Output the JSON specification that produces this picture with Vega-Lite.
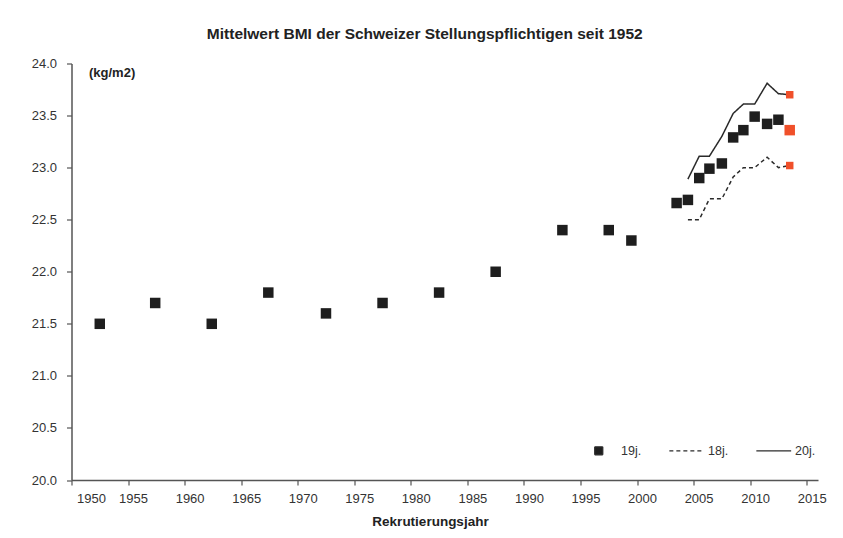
{
  "$schema": "https://vega.github.io/schema/vega-lite/v6.json",
  "width": 746.5,
  "height": 416.5,
  "autosize": {"type": "none"},
  "padding": {"left": 71.5, "top": 63.5, "right": 25, "bottom": 58},
  "background": "white",
  "title": {
    "text": "Mittelwert BMI der Schweizer Stellungspflichtigen seit 1952",
    "font": "Liberation Sans",
    "fontSize": 15.5,
    "fontWeight": "bold",
    "color": "#222222",
    "anchor": "middle",
    "dx": -20,
    "offset": 15
  },
  "config": {
    "view": {"stroke": null},
    "axis": {
      "labelFont": "Liberation Sans",
      "labelFontSize": 13,
      "labelColor": "#333333",
      "titleFont": "Liberation Sans",
      "titleFontSize": 13.5,
      "titleFontWeight": "bold",
      "titleColor": "#222222",
      "domainColor": "#555555",
      "domainWidth": 1.5,
      "tickColor": "#555555",
      "tickWidth": 1.2,
      "tickSize": 5,
      "grid": false
    }
  },
  "data": {
    "values": [
      {"series": "19j.", "year": 1952.5, "bmi": 21.5},
      {"series": "19j.", "year": 1957.4, "bmi": 21.7},
      {"series": "19j.", "year": 1962.4, "bmi": 21.5},
      {"series": "19j.", "year": 1967.4, "bmi": 21.8},
      {"series": "19j.", "year": 1972.5, "bmi": 21.6},
      {"series": "19j.", "year": 1977.5, "bmi": 21.7},
      {"series": "19j.", "year": 1982.5, "bmi": 21.8},
      {"series": "19j.", "year": 1987.5, "bmi": 22.0},
      {"series": "19j.", "year": 1993.4, "bmi": 22.4},
      {"series": "19j.", "year": 1997.5, "bmi": 22.4},
      {"series": "19j.", "year": 1999.5, "bmi": 22.3},
      {"series": "19j.", "year": 2003.5, "bmi": 22.66},
      {"series": "19j.", "year": 2004.5, "bmi": 22.69},
      {"series": "19j.", "year": 2005.5, "bmi": 22.9},
      {"series": "19j.", "year": 2006.4, "bmi": 22.99},
      {"series": "19j.", "year": 2007.5, "bmi": 23.04},
      {"series": "19j.", "year": 2008.5, "bmi": 23.29},
      {"series": "19j.", "year": 2009.4, "bmi": 23.36},
      {"series": "19j.", "year": 2010.4, "bmi": 23.49},
      {"series": "19j.", "year": 2011.5, "bmi": 23.42},
      {"series": "19j.", "year": 2012.5, "bmi": 23.46},
      {"series": "19j.", "year": 2013.5, "bmi": 23.36},
      {"series": "20j.", "year": 2004.5, "bmi": 22.89},
      {"series": "20j.", "year": 2005.5, "bmi": 23.11},
      {"series": "20j.", "year": 2006.4, "bmi": 23.11},
      {"series": "20j.", "year": 2007.5, "bmi": 23.3},
      {"series": "20j.", "year": 2008.5, "bmi": 23.52},
      {"series": "20j.", "year": 2009.4, "bmi": 23.61},
      {"series": "20j.", "year": 2010.4, "bmi": 23.61},
      {"series": "20j.", "year": 2011.5, "bmi": 23.81},
      {"series": "20j.", "year": 2012.5, "bmi": 23.71},
      {"series": "20j.", "year": 2013.5, "bmi": 23.7},
      {"series": "18j.", "year": 2004.5, "bmi": 22.5},
      {"series": "18j.", "year": 2005.5, "bmi": 22.5},
      {"series": "18j.", "year": 2006.4, "bmi": 22.7},
      {"series": "18j.", "year": 2007.5, "bmi": 22.7},
      {"series": "18j.", "year": 2008.5, "bmi": 22.91},
      {"series": "18j.", "year": 2009.4, "bmi": 23.0},
      {"series": "18j.", "year": 2010.4, "bmi": 23.0},
      {"series": "18j.", "year": 2011.5, "bmi": 23.1},
      {"series": "18j.", "year": 2012.5, "bmi": 23.0},
      {"series": "18j.", "year": 2013.5, "bmi": 23.02}
    ]
  },
  "encoding": {
    "x": {
      "field": "year",
      "type": "quantitative",
      "scale": {"domain": [1950, 2016], "nice": false, "zero": false},
      "axis": {
        "values": [1950, 1955, 1960, 1965, 1970, 1975, 1980, 1985, 1990, 1995, 2000, 2005, 2010, 2015],
        "format": "d",
        "title": "Rekrutierungsjahr",
        "labelPadding": 7,
        "labelOffset": 5,
        "titlePadding": 9,
        "titleX": 358.5
      }
    },
    "y": {
      "field": "bmi",
      "type": "quantitative",
      "scale": {"domain": [20, 24], "nice": false, "zero": false},
      "axis": {
        "values": [20, 20.5, 21, 21.5, 22, 22.5, 23, 23.5, 24],
        "format": ".1f",
        "title": "(kg/m2)",
        "titleAngle": 0,
        "titleX": 17,
        "titleY": 9,
        "titleAlign": "left",
        "titleBaseline": "middle",
        "titleFontSize": 13,
        "labelPadding": 10
      }
    }
  },
  "layer": [
    {
      "transform": [{"filter": "datum.series !== '19j.'"}],
      "mark": {"type": "line", "color": "#2a2a2a", "strokeWidth": 1.5},
      "encoding": {
        "detail": {"field": "series"},
        "strokeDash": {
          "field": "series",
          "type": "nominal",
          "scale": {"domain": ["19j.", "18j.", "20j."], "range": [[1, 0], [4, 3], [1, 0]]},
          "legend": {
            "title": null,
            "orient": "none",
            "direction": "horizontal",
            "legendX": 521,
            "legendY": 381,
            "symbolSize": 64,
            "symbolStrokeWidth": 1.3,
            "symbolStrokeColor": "#2a2a2a",
            "labelFont": "Liberation Sans",
            "labelFontSize": 12.5,
            "labelColor": "#333333",
            "labelOffset": 16,
            "columnPadding": 25,
            "encode": {
              "symbols": {
                "update": {
                  "shape": {"signal": "datum.value === '19j.' ? 'square' : 'M-4.1,0H4.6'"},
                  "fill": {"signal": "datum.value === '19j.' ? '#1e1e1e' : 'transparent'"},
                  "stroke": {"value": "#2a2a2a"},
                  "strokeWidth": {"value": 1.3},
                  "opacity": {"value": 1}
                }
              }
            }
          }
        }
      }
    },
    {
      "transform": [{"filter": "datum.series === '19j.' || datum.year > 2013"}],
      "mark": {"type": "point", "shape": "square", "filled": true, "opacity": 1},
      "encoding": {
        "color": {
          "condition": {"test": "datum.year > 2013", "value": "#f0502a"},
          "value": "#1e1e1e"
        },
        "size": {
          "condition": {"test": "datum.series !== '19j.'", "value": 56},
          "value": 110
        }
      }
    }
  ]
}
